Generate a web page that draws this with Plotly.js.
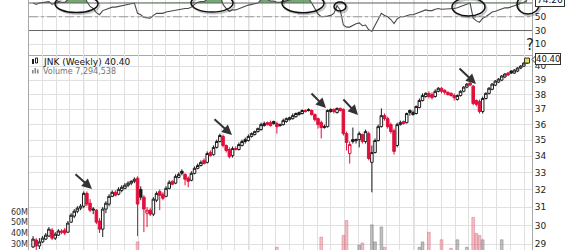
<!DOCTYPE html>
<html><head><meta charset="utf-8">
<script src="https://cdn.plot.ly/plotly-3.0.1.min.js"></script>
<style>html,body{margin:0;padding:0;background:#fff;}#chart{width:570px;height:250px;}</style>
</head><body><div id="chart"></div>
<script>
// ---- data (weekly JNK candles) ----
const firstWeek = '2009-09-11';
const open = [28.86,29.22,28.91,29.12,29.27,29.43,29.75,29.32,29.48,29.70,
29.75,29.64,30.18,30.51,30.78,30.95,31.06,31.79,31.23,30.84,
30.84,30.24,29.80,30.90,31.18,31.62,31.85,31.74,31.96,32.08,
32.26,32.38,32.49,32.67,32.02,31.57,30.67,30.84,30.62,31.40,
31.90,31.74,31.62,32.08,32.49,32.38,32.72,33.08,32.90,32.67,
32.55,32.96,33.26,33.43,33.74,33.62,34.22,34.09,34.54,34.91,
35.23,34.66,34.41,34.03,34.47,34.41,34.66,34.91,34.97,35.23,
35.35,35.54,35.67,35.93,36.12,36.12,36.19,36.06,35.99,35.99,
36.19,36.32,36.38,36.51,36.65,36.72,36.92,36.99,36.92,36.65,
36.38,36.12,35.80,35.86,36.85,36.99,36.78,37.06,36.99,35.41,
34.16,35.03,35.03,35.03,35.35,34.91,35.41,33.62,34.22,34.97,
35.86,36.58,36.38,35.99,35.60,34.66,35.99,36.19,36.12,36.92,
36.65,36.72,37.12,37.59,37.86,38.08,38.00,37.86,38.22,38.43,
38.29,38.15,38.08,37.93,37.66,37.93,38.22,38.51,38.79,38.58,
37.59,37.52,36.85,37.73,38.08,38.36,38.65,38.86,39.00,39.22,
39.50,39.64,39.50,39.64,39.86,40.00,40.22];
const high = [29.43,29.32,29.32,29.43,29.59,29.91,29.86,29.64,29.80,29.80,
29.86,30.24,30.67,30.90,31.06,31.18,31.90,31.90,31.46,31.01,
30.90,30.40,31.01,31.34,31.74,31.96,31.96,32.14,32.26,32.38,
32.49,32.55,32.72,32.78,32.20,31.68,31.01,30.95,31.57,31.90,
32.02,31.85,32.20,32.55,32.55,32.90,33.02,33.20,32.96,32.78,
33.08,33.37,33.55,33.74,33.86,34.29,34.35,34.66,35.03,35.41,
35.35,34.72,34.54,34.60,34.60,34.85,35.03,35.16,35.35,35.48,
35.60,35.80,36.12,36.19,36.19,36.25,36.25,36.19,36.06,36.38,
36.45,36.51,36.72,36.78,36.85,36.99,36.99,37.06,36.99,36.72,
36.45,36.25,35.99,36.99,37.06,37.06,37.12,37.12,37.06,35.54,
34.91,35.80,35.10,35.54,35.41,35.67,35.54,34.66,35.10,35.99,
37.06,36.72,36.51,36.12,35.73,36.12,36.25,36.25,36.78,36.99,
36.92,37.26,37.73,38.08,38.15,38.22,38.15,38.36,38.51,38.51,
38.36,38.22,38.15,38.08,38.00,38.29,38.58,38.79,38.86,38.65,
37.66,37.66,37.86,38.15,38.51,38.79,39.00,39.14,39.36,39.50,
39.57,39.71,39.78,39.93,40.07,40.29,40.44];
const low = [28.80,28.70,28.75,29.06,29.22,29.38,29.22,29.22,29.43,29.53,
29.48,29.59,30.13,30.40,30.67,30.84,30.95,31.06,30.73,30.62,
30.07,29.59,29.38,30.67,31.06,31.57,31.62,31.68,31.85,32.02,
32.14,32.26,32.38,29.43,31.40,29.64,29.91,30.51,30.51,31.29,
30.84,31.40,31.57,32.02,32.26,32.32,32.67,32.84,32.26,32.14,
32.49,32.90,33.20,33.37,33.49,33.55,33.97,34.03,34.47,34.85,
34.54,34.22,33.86,33.91,34.35,34.35,34.60,34.78,34.91,35.16,
35.29,35.48,35.60,35.86,35.93,35.86,35.99,35.41,35.86,35.93,
36.12,36.25,36.32,36.45,36.58,36.65,36.78,36.85,36.58,36.19,
35.73,35.10,35.73,35.80,36.78,36.72,36.72,36.85,35.29,34.35,
33.55,34.78,34.78,34.54,34.78,34.78,33.74,31.85,34.16,34.91,
35.80,36.25,35.73,35.41,34.09,34.54,35.93,35.99,36.06,36.58,
36.58,36.65,37.06,37.52,37.79,37.73,37.66,37.79,38.15,38.08,
38.00,37.93,37.86,37.59,37.59,37.86,38.15,38.43,38.58,37.26,
37.19,36.72,36.72,37.66,38.00,38.29,38.58,38.79,38.93,39.14,
39.29,39.43,39.43,39.57,39.78,39.93,40.15];
const close = [29.27,28.91,29.12,29.32,29.48,29.80,29.32,29.53,29.70,29.64,
29.59,30.13,30.56,30.78,30.95,31.06,31.79,31.18,30.84,30.90,
30.18,29.80,30.90,31.23,31.62,31.85,31.68,32.02,32.14,32.26,
32.38,32.49,32.61,31.18,31.57,30.90,30.84,30.62,31.46,31.79,
31.68,31.51,32.08,32.43,32.32,32.78,32.90,32.96,32.61,32.49,
32.96,33.26,33.43,33.62,33.55,34.16,34.03,34.54,34.91,35.29,
34.66,34.35,33.97,34.47,34.41,34.72,34.91,35.03,35.23,35.41,
35.54,35.73,35.99,36.06,35.99,35.93,36.06,35.86,35.93,36.25,
36.38,36.45,36.58,36.72,36.78,36.92,36.85,36.92,36.65,36.32,
35.99,35.80,35.86,36.92,36.99,36.85,37.06,36.92,35.41,34.85,
34.72,34.91,34.97,35.41,34.91,35.54,33.86,34.22,34.97,35.86,
36.58,36.38,35.86,35.54,34.29,35.99,36.12,36.06,36.72,36.78,
36.78,37.19,37.59,37.93,38.08,37.86,37.79,38.22,38.43,38.22,
38.15,38.00,37.93,37.79,37.93,38.22,38.51,38.72,38.65,37.39,
37.33,36.85,37.73,38.08,38.43,38.72,38.93,39.07,39.29,39.43,
39.36,39.50,39.71,39.86,40.00,40.22,40.40];
// weekly volume, millions
const volumeM = [14,18,15,12,13,16,19,12,11,13,
15,14,12,11,10,12,16,18,17,12,
19,21,18,13,12,11,12,10,11,10,
9,10,11,32,20,22,18,15,14,12,
17,14,12,11,12,13,11,10,15,14,
12,11,10,12,13,14,16,13,12,14,
21,19,22,16,12,13,11,10,12,11,
10,11,13,12,14,16,13,27,15,14,
12,11,12,13,14,12,15,13,18,22,
23,36.5,20,21,16,17,15,19,38,52,
23,20,18,29,31,21,23,48,32,22,
46,27,22,21,23,20,17,16,18,15,
14,19,27,32,17,41,20,18,16,34,
20,19,26,21,34,18,17,27,23,55,
40,38,34,22,18,19,17,15,34,18,
16,15,14,16,13,14,7.294538];
// RSI(14)
const rsi = [70,68,70,71,71,72,68,70,72,71,
71,75,78,80,81,81,85,72,65,62,
56,53,59,61,63,64,64,65,66,67,
68,69,70,55,53,49,49,48,52,55,
55,55,57,58,58,60,61,62,62,62,
64,68,71,72,72,76,75,78,80,82,
68,62,58,60,60,62,63,65,67,68,
69,70,75,76,75,73,73,71,71,72,
73,74,76,77,78,79,77,77,70,62,
54,50,50,51,52,55,66,60,38,35,
35,38,40,41,37,38,31,29,38,47,
55,52,50,46,40,47,50,50,52,53,
53,55,57,59,60,59,59,61,62,61,
61,61,62,62,63,65,67,69,70,48,
44,42,48,50,54,57,58,60,62,63,
63,64,66,68,69,71,74.26];
const priceTicks = [29,30,31,32,33,34,35,36,37,38,39,40];
const rsiTicks = [10,30,50];
const rsiLevels = {upper:70, mid:50, lower:30};
const volTicks = [30,40,50,60];
const volTickText = ['30M','40M','50M','60M'];
const yearStarts = ['2010-01-01','2011-01-01','2012-01-01'];
const symbolLabel = 'JNK (Weekly)';

// ---- derived ----
const N = close.length;
const t0 = Date.parse(firstWeek + 'T00:00:00Z');
const weeks = close.map((_, i) => new Date(t0 + i * 7 * 86400000).toISOString().slice(0, 10));
const isDown = close.map((c, i) => i > 0 && c < close[i - 1]);
const pick = (arr, keep) => arr.map((v, i) => keep(i) ? v : null);

// pixel helpers for decorations (plot spans x 29..532, y 0..250)
const L = 29, R = 532, H = 250;
const px = x => (x - L) / (R - L);
const py = y => 1 - y / H;

const RED = '#e0103c', BLK = '#1c1c1c';
function candles(keep, col) {
  return {type:'candlestick', x:weeks, xaxis:'x2', yaxis:'y2',
    open:pick(open,keep), high:pick(high,keep), low:pick(low,keep), close:pick(close,keep),
    increasing:{line:{color:col,width:1}, fillcolor:'#ffffff'},
    decreasing:{line:{color:col,width:1}, fillcolor:col},
    whiskerwidth:0, hoverinfo:'skip', showlegend:false};
}

const traces = [
  {type:'bar', x:weeks, y:volumeM, xaxis:'x2', yaxis:'y3', hoverinfo:'skip', showlegend:false,
   marker:{color:isDown.map(d => d ? 'rgba(228,110,128,0.45)' : 'rgba(140,140,140,0.55)'),
           line:{width:0.6, color:isDown.map(d => d ? 'rgba(210,80,100,0.6)' : 'rgba(100,100,100,0.6)')}}},
  candles(i => !isDown[i], BLK),
  candles(i => isDown[i], RED),
  {type:'scatter', mode:'markers', x:[weeks[N-1]], y:[close[N-1]], xaxis:'x2', yaxis:'y2',
   marker:{symbol:'square', size:5, color:'#e4e44a', line:{color:'#333', width:1}}, hoverinfo:'skip', showlegend:false},
  // RSI green fill above 70
  {type:'scatter', mode:'lines', x:weeks, y:weeks.map(() => rsiLevels.upper), line:{width:0, color:'rgba(0,0,0,0)'}, hoverinfo:'skip', showlegend:false},
  {type:'scatter', mode:'lines', x:weeks, y:rsi.map(v => Math.max(v, rsiLevels.upper)), fill:'tonexty',
   fillcolor:'rgba(70,140,70,0.75)', line:{width:0, color:'rgba(0,0,0,0)'}, hoverinfo:'skip', showlegend:false},
  {type:'scatter', mode:'lines', x:weeks, y:rsi, line:{color:'#4a4a4a', width:1.1}, hoverinfo:'skip', showlegend:false}
];

const xRange = ['2009-09-02', '2012-09-18'];
const grid = '#e0e0e0', border = '#a8a8a8';

const shapes = [];
yearStarts.forEach(d => shapes.push({type:'line', xref:'x', yref:'paper', x0:d, x1:d, y0:0, y1:1, line:{color:'#c4c4c4', width:1}, layer:'below'}));
shapes.push({type:'line', xref:'paper', yref:'y', x0:0, x1:1, y0:rsiLevels.upper, y1:rsiLevels.upper, line:{color:'#666', width:1}});
shapes.push({type:'line', xref:'paper', yref:'y', x0:0, x1:1, y0:rsiLevels.lower, y1:rsiLevels.lower, line:{color:'#666', width:1}});
shapes.push({type:'line', xref:'paper', yref:'y', x0:0, x1:1, y0:rsiLevels.mid, y1:rsiLevels.mid, line:{color:'#999', width:1, dash:'dashdot'}});
// ellipses drawn on the RSI panel
const ellipses = [[55,-5,98,12.5],[191,-6,233,12],[282,-6,324,12.7],[334,2,346,11],[452,-2,485,16],[517,-5,539,14]];
ellipses.forEach(e => {
  shapes.push({type:'circle', xref:'paper', yref:'paper', x0:px(e[0]+1.5), x1:px(e[2]+1.5), y0:py(e[3]+1.5), y1:py(e[1]+1.5), line:{color:'rgba(0,0,0,0.22)', width:2}});
  shapes.push({type:'circle', xref:'paper', yref:'paper', x0:px(e[0]), x1:px(e[2]), y0:py(e[3]), y1:py(e[1]), line:{color:'#111', width:1.5}});
});
// price tag pointer
shapes.push({type:'path', xref:'paper', yref:'paper', path:`M ${px(532)} ${py(59.5)} L ${px(536)} ${py(55.5)} L ${px(536)} ${py(63.5)} Z`, fillcolor:'#fff', line:{color:'#333', width:1}});
// legend icons
shapes.push({type:'rect', xref:'paper', yref:'paper', x0:px(32), x1:px(34), y0:py(64), y1:py(59), fillcolor:'#222', line:{width:0}});
shapes.push({type:'rect', xref:'paper', yref:'paper', x0:px(35.5), x1:px(37.5), y0:py(63), y1:py(58), fillcolor:'#fff', line:{color:'#222', width:1}});
[[32,70],[34.5,68],[37,69.5]].forEach(b => shapes.push({type:'rect', xref:'paper', yref:'paper', x0:px(b[0]), x1:px(b[0]+1.6), y0:py(73.5), y1:py(b[1]), fillcolor:'#888', line:{width:0}}));

const arrows = [[92,189,-18,-16],[232,135,-19,-17],[326,108,-16,-16],[358,115,-16,-17],[476,84,-18,-17]];
const annotations = arrows.map(a => ({xref:'paper', yref:'paper', x:px(a[0]), y:py(a[1]), ax:a[2], ay:a[3], text:'', showarrow:true,
  arrowhead:2, arrowsize:1, arrowwidth:2, arrowcolor:'#333', standoff:0}));
annotations.push({xref:'paper', yref:'paper', x:px(41), y:py(62), xanchor:'left', yanchor:'middle', showarrow:false,
  text:symbolLabel + ' ' + close[N-1].toFixed(2), font:{size:9, color:'#111'}});
annotations.push({xref:'paper', yref:'paper', x:px(40.5), y:py(71), xanchor:'left', yanchor:'middle', showarrow:false,
  text:'Volume ' + Math.round(volumeM[N-1]*1e6).toLocaleString('en-US'), font:{size:8, color:'#777'}});
annotations.push({xref:'paper', yref:'y2', x:1, y:Math.log10(close[N-1]), xanchor:'left', yanchor:'middle', xshift:3, yshift:1.5, showarrow:false,
  text:close[N-1].toFixed(2), font:{size:8.5, color:'#111'}, bgcolor:'#fff', bordercolor:'#333', borderwidth:1, borderpad:0});
annotations.push({xref:'paper', yref:'y', x:1, y:rsi[N-1], xanchor:'left', yanchor:'middle', xshift:3, showarrow:false,
  text:rsi[N-1].toFixed(2), font:{size:9, color:'#111'}, bgcolor:'#fff', bordercolor:'#333', borderwidth:1, borderpad:1});
annotations.push({xref:'paper', yref:'paper', x:px(530), y:py(45), xanchor:'center', yanchor:'middle', showarrow:false,
  text:'?', font:{size:15, color:'#222'}});

const layout = {
  width:570, height:250, margin:{l:L, r:570-R, t:0, b:0},
  paper_bgcolor:'#fff', plot_bgcolor:'#fff', showlegend:false,
  font:{family:'DejaVu Sans, Verdana, sans-serif', size:9, color:'#222'},
  bargap:0.12, boxgap:0.2, boxgroupgap:0,
  xaxis:{domain:[0,1], anchor:'y', type:'date', range:xRange, dtick:'M1', tick0:'2009-09-01',
         showgrid:true, gridcolor:grid, showticklabels:false, ticks:'', showline:true, linecolor:border, zeroline:false, rangeslider:{visible:false}},
  xaxis2:{domain:[0,1], anchor:'y2', type:'date', matches:'x', range:xRange, dtick:'M1', tick0:'2009-09-01',
          showgrid:true, gridcolor:grid, showticklabels:false, ticks:'', showline:false, zeroline:false, rangeslider:{visible:false}},
  yaxis:{domain:[0.78,1], anchor:'x', range:[-5.6,74.4], side:'right', tickvals:rsiTicks, showgrid:true, gridcolor:grid,
         zeroline:false, showline:true, mirror:true, linecolor:border, ticks:'', tickfont:{size:9}},
  yaxis2:{domain:[0,0.78], anchor:'x2', type:'log', range:[Math.log10(28.70), Math.log10(40.81)], side:'right',
          tickvals:priceTicks, ticktext:priceTicks.map(String), showgrid:true, gridcolor:grid, zeroline:false,
          showline:true, mirror:true, linecolor:border, ticks:'', tickfont:{size:9}},
  yaxis3:{overlaying:'y2', anchor:'x2', side:'left', range:[24.4,207], tickvals:volTicks, ticktext:volTickText,
          showgrid:false, zeroline:false, showline:false, ticks:'', tickfont:{size:8, color:'#333'}},
  shapes:shapes, annotations:annotations
};

Plotly.newPlot('chart', traces, layout, {staticPlot:true, displayModeBar:false});
</script>
</body></html>
